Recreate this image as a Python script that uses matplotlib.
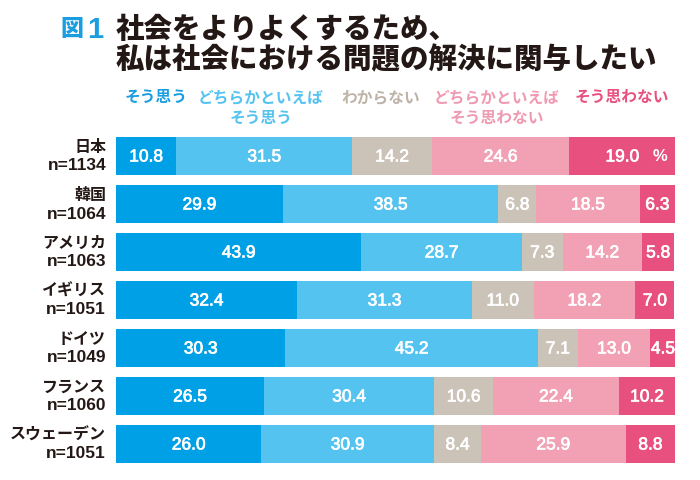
import matplotlib
matplotlib.use("Agg")
import matplotlib.pyplot as plt
import matplotlib.patheffects as pe
import numpy as np

plt.rcParams['font.family'] = ['Noto Sans CJK JP', 'DejaVu Sans']

countries = ["日本", "韓国", "アメリカ", "イギリス", "ドイツ", "フランス", "スウェーデン"]
samples = ["n=1134", "n=1064", "n=1063", "n=1051", "n=1049", "n=1060", "n=1051"]
categories = ["そう思う", "どちらかといえば\nそう思う", "わからない", "どちらかといえば\nそう思わない", "そう思わない"]
agree = [10.8, 29.9, 43.9, 32.4, 30.3, 26.5, 26.0]
somewhat_agree = [31.5, 38.5, 28.7, 31.3, 45.2, 30.4, 30.9]
dont_know = [14.2, 6.8, 7.3, 11.0, 7.1, 10.6, 8.4]
somewhat_disagree = [24.6, 18.5, 14.2, 18.2, 13.0, 22.4, 25.9]
disagree = [19.0, 6.3, 5.8, 7.0, 4.5, 10.2, 8.8]
series = [agree, somewhat_agree, dont_know, somewhat_disagree, disagree]
colors = ["#00a0e6", "#55c3f0", "#cbc2b8", "#f2a1b5", "#e8507f"]
legend_colors = ["#1a9ee0", "#55c3f0", "#bdb3a8", "#f09ab2", "#e8507f"]

W, H = 700, 480
fig = plt.figure(figsize=(W/100, H/100), dpi=100)
ax = fig.add_axes([116/W, 1-468/H, (675-116)/W, 336/H])

stroke = [pe.withStroke(linewidth=0.5, foreground='white')]
y = np.arange(len(countries))
left = np.zeros(len(countries))
for vals, c in zip(series, colors):
    vals = np.array(vals)
    ax.barh(y, vals, left=left, height=0.79, color=c, edgecolor='none')
    for yi, l, v in zip(y, left, vals):
        ax.text(l + v/2, yi + 0.02, f"{v:.1f}", ha='center', va='center', color='white',
                fontsize=12.5, family='Liberation Sans', path_effects=stroke)
    left += vals

ax.text(97.3, 0.02, "%", ha='center', va='center', color='white', fontsize=12, fontweight='bold',
        family='Liberation Sans')

ax.set_xlim(0, 100)
ax.set_ylim(len(countries)-0.5, -0.5)
ax.axis('off')

for yi, (cn, n) in enumerate(zip(countries, samples)):
    yp = ax.transData.transform((0, yi))[1]
    yfig = yp / fig.dpi / (H/100)
    fig.text(106/W, yfig + 9/H, cn, ha='right', va='center', fontsize=11.5, fontweight='bold',
             color='#231815')
    fig.text(106/W, yfig - 10/H, n, ha='right', va='center', fontsize=12.5, fontweight='bold',
             color='#231815', family='Liberation Sans')

# title
fig.text(60/W, 1-30/H, "図", ha='left', va='center', fontsize=16.5, fontweight='black',
         color='#1a9ee0')
fig.text(87/W, 1-30/H, "1", ha='left', va='center', fontsize=21, fontweight='bold',
         color='#1a9ee0', family='Liberation Sans')
fig.text(116/W, 1-29/H, "社会をよりよくするため、", ha='left', va='center', fontsize=20.5,
         fontweight='black', color='#231815')
fig.text(116/W, 1-60/H, "私は社会における問題の解決に関与したい", ha='left', va='center',
         fontsize=20.5, fontweight='black', color='#231815')

# legend
leg_x = [156, 261, 381, 497, 622]
for x, cat, c in zip(leg_x, categories, legend_colors):
    lines = cat.split("\n")
    for k, line in enumerate(lines):
        fig.text(x/W, 1-(97 + 21*k)/H, line, ha='center', va='center', fontsize=11.3,
                 fontweight='bold', color=c)

fig.savefig("out.png", dpi=100)
